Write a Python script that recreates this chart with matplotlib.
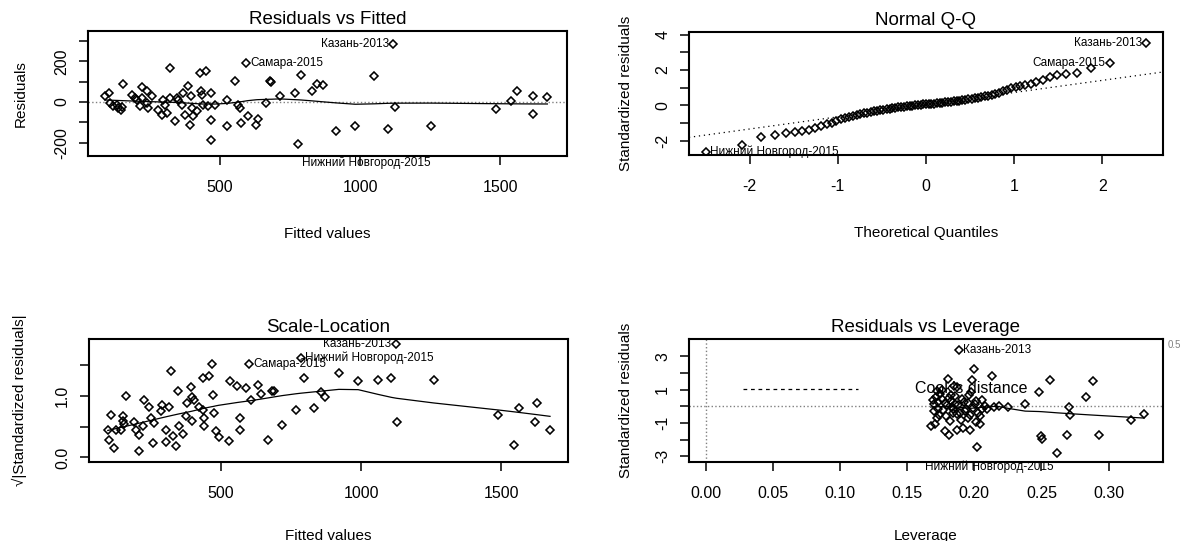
import numpy as np
import matplotlib
matplotlib.use("Agg")
import matplotlib.pyplot as plt
from statistics import NormalDist

plt.rcParams["font.family"] = ["Liberation Sans", "DejaVu Sans"]
plt.rcParams["axes.unicode_minus"] = False

# --- DADOS ---
# painel 1: residuos vs valores ajustados
fitted = [91, 103, 109, 120, 132, 138, 148, 150, 156, 186,
          198, 203, 215, 221, 224, 239, 245, 257, 239, 281,
          292, 298, 304, 310, 322, 322, 340, 346, 352, 364,
          370, 375, 387, 393, 397, 399, 405, 417, 429, 432,
          435, 441, 452, 458, 468, 468, 470, 482, 524, 527,
          553, 565, 571, 577, 601, 595, 630, 636, 666, 678,
          684, 713, 767, 779, 790, 828, 847, 868, 915, 983,
          1051, 1099, 1123, 1253, 1484, 1538, 1561, 1615, 1618, 1668,
          1117]
resid = [28, 44, -5, -21, -16, -30, -38, -26, 89, 36,
         20, 11, -21, 72, 20, 56, -30, 28, -5, -38,
         -62, 11, -13, -54, 167, 20, -95, 20, 11, -13,
         44, -62, 77, -112, 28, -30, -70, -46, 143, 52,
         36, -13, 151, -21, -87, -185, 44, -13, 11, -120,
         105, -16, -30, -103, -70, 192, -115, -82, -5, 102,
         98, 28, 44, -205, 134, 56, 89, 82, -144, -120,
         126, -131, -23, -120, -34, 3, 52, -59, 28, 23,
         287]
p1_labels = {80: "Казань-2013", 55: "Самара-2015", 63: "Нижний Новгород-2015"}

# painel 2: Q-Q (residuos padronizados ordenados)
qq_std = [-2.65, -2.24, -1.82, -1.67, -1.55, -1.51, -1.46, -1.39, -1.30, -1.20,
          -1.08, -0.99, -0.90, -0.80, -0.72, -0.64, -0.59, -0.55, -0.50, -0.46,
          -0.43, -0.39, -0.35, -0.31, -0.28, -0.25, -0.22, -0.19, -0.16, -0.14,
          -0.12, -0.10, -0.08, -0.06, -0.04, -0.02, 0.00, 0.02, 0.03, 0.05,
          0.06,
          0.07, 0.09, 0.10, 0.12, 0.13, 0.15, 0.17, 0.18, 0.20, 0.22,
          0.24, 0.26, 0.28, 0.30, 0.33, 0.36, 0.39, 0.42, 0.46, 0.50,
          0.55, 0.60, 0.66, 0.72, 0.80, 0.88, 0.96, 1.02, 1.08, 1.14,
          1.22, 1.30, 1.45, 1.62, 1.72, 1.78, 1.82, 2.10, 2.38, 3.52]
qq_labels = {80: "Казань-2013", 79: "Самара-2015", 0: "Нижний Новгород-2015"}

# painel 3: scale-location
sl_fitted = [97, 100, 109, 120, 126, 144, 150, 152, 156, 162,
             192, 198, 207, 209, 221, 227, 245, 251, 257, 263,
             286, 292, 304, 304, 316, 322, 328, 340, 346, 352,
             364, 375, 381, 393, 397, 399, 405, 423, 435, 437,
             441, 441, 458, 470, 473, 476, 482, 492, 530, 532,
             559, 568, 568, 589, 601, 607, 634, 642, 670, 684,
             690, 719, 769, 785, 796, 832, 856, 873, 921, 990,
             1061, 1108, 1128, 1123, 1259, 1490, 1544, 1564, 1621, 1629,
             1674]
sl_sqrt = [0.45, 0.29, 0.69, 0.16, 0.45, 0.45, 0.67, 0.59, 0.54, 1.00,
           0.58, 0.45, 0.37, 0.11, 0.52, 0.93, 0.83, 0.65, 0.24, 0.56,
           0.75, 0.85, 0.45, 0.26, 0.83, 1.41, 0.35, 0.19, 1.09, 0.51,
           0.38, 0.67, 0.88, 1.14, 0.99, 0.59, 0.93, 0.83, 1.30, 0.77,
           0.64, 0.51, 1.33, 1.52, 1.01, 0.72, 0.43, 0.33, 0.27, 1.24,
           1.16, 0.64, 0.45, 1.13, 1.52, 0.93, 1.18, 1.04, 0.29, 1.09,
           1.09, 0.53, 0.77, 1.62, 1.30, 0.81, 1.06, 0.99, 1.37, 1.25,
           1.27, 1.30, 0.58, 1.85, 1.27, 0.69, 0.20, 0.80, 0.58, 0.88,
           0.45]
sl_labels = {73: "Казань-2013", 54: "Самара-2015", 63: "Нижний Новгород-2015"}

# painel 4: residuos vs leverage
leverage = [0.1676, 0.1707, 0.1720, 0.1702, 0.1712, 0.1733, 0.1728, 0.1746, 0.1759, 0.1785,
            0.1805, 0.1810, 0.1824, 0.1836, 0.1844, 0.1857, 0.1868, 0.1875, 0.1883, 0.1893,
            0.1914, 0.1927, 0.1940, 0.1952, 0.1966, 0.1978, 0.1986, 0.1996, 0.2004, 0.2012,
            0.2022, 0.2030, 0.2043, 0.2056, 0.2082, 0.2094, 0.2133, 0.2147, 0.2185, 0.2250,
            0.2379, 0.2482, 0.2495, 0.2508, 0.2565, 0.2619, 0.2694, 0.2702, 0.2710, 0.2831,
            0.2882, 0.2926, 0.3167, 0.3263,
            0.169, 0.170, 0.172, 0.174, 0.176, 0.177, 0.178, 0.179, 0.180, 0.181,
            0.182, 0.183, 0.184, 0.186, 0.187, 0.188, 0.190, 0.191, 0.193, 0.195,
            0.197, 0.199, 0.201, 0.204, 0.206, 0.185, 0.196]
lev_std = [-1.16, -1.08, -0.70, 0.14, 0.55, 0.24, -0.18, 0.77, 1.01, -1.49,
           1.64, -1.75, 0.66, -0.07, -0.39, 0.14, -1.43, 1.18, 3.38, -0.39,
           -1.29, 0.24, -0.18, -0.70, -1.43, 0.87, 1.60, 2.27, 0.14, -0.95,
           -2.42, -0.39, -0.60, -0.18, 0.03, -0.18, 1.85, -0.07, 0.03, -0.03,
           0.14, 0.87, -1.79, -1.96, 1.60, -2.80, -1.75, -0.07, -0.54, 0.55,
           1.54, -1.75, -0.81, -0.49,
           0.40, -0.30, 0.95, -0.55, 0.45, -0.25, 0.20, -0.60, 0.05, 0.50,
           -0.90, 0.30, -0.15, 0.60, -0.45, 0.10, -0.80, 0.45, -0.30, 0.20,
           -0.55, -0.10, 0.35, -1.05, 0.40, 1.20, 0.70]
lev_labels = {18: "Казань-2013", 45: "Нижний Новгород-2015"}

MARK = dict(marker="D", ms=4.0, mfc="none", mec="black", mew=1.15, ls="none")
LABEL_FS = 8.5


# --- LOWESS (igual ao panel.smooth do R) ---
def lowess(x, y, f=2 / 3, iters=3):
    x = np.asarray(x, float)
    y = np.asarray(y, float)
    idx = np.argsort(x)
    x, y = x[idx], y[idx]
    n = len(x)
    r = int(np.ceil(f * n))
    h = np.array([np.sort(np.abs(x - x[i]))[r - 1] for i in range(n)])
    h[h == 0] = 1e-12
    w = np.clip(np.abs((x[None, :] - x[:, None]) / h[:, None]), 0, 1)
    w = (1 - w ** 3) ** 3
    delta = np.ones(n)
    yest = np.zeros(n)
    for _ in range(iters + 1):
        for i in range(n):
            wi = delta * w[i]
            A = np.array([[wi.sum(), (wi * x).sum()],
                          [(wi * x).sum(), (wi * x * x).sum()]])
            b = np.array([(wi * y).sum(), (wi * y * x).sum()])
            beta = np.linalg.lstsq(A, b, rcond=None)[0]
            yest[i] = beta[0] + beta[1] * x[i]
        res = y - yest
        s = np.median(np.abs(res))
        d = np.clip(res / (6 * s), -1, 1)
        delta = (1 - d ** 2) ** 2
    return x, yest


def estilo(ax, title, xlabel, ylabel, xpad=20, ypad=14):
    for sp in ax.spines.values():
        sp.set_linewidth(1.5)
    ax.tick_params(direction="out", length=6.5, width=1.1, labelsize=11.5)
    ax.tick_params(axis="x", pad=11)
    ax.tick_params(axis="y", pad=7, labelrotation=90)
    for lab in ax.get_yticklabels():
        lab.set_va("center")
    ax.set_title(title, fontsize=13.5, pad=5)
    ax.set_xlabel(xlabel, fontsize=11, labelpad=xpad)
    ax.set_ylabel(ylabel, fontsize=11, labelpad=ypad)


def rotular(ax, xs, ys, labels, lado_esq, dy=None):
    for i, txt in labels.items():
        left = lado_esq(i)
        off_y = 0 if dy is None or i not in dy else dy[i]
        ax.annotate(txt, (xs[i], ys[i]),
                    xytext=(-3 if left else 3, off_y), textcoords="offset points",
                    ha="right" if left else "left", va="center",
                    fontsize=LABEL_FS, annotation_clip=False)


fig = plt.figure(figsize=(11.85, 5.41), dpi=100)

# --- 1. Residuals vs Fitted ---
ax1 = fig.add_axes([0.0743, 0.7116, 0.4042, 0.2311])
ax1.axhline(0, color="gray", ls=":", lw=1)
ax1.plot(fitted, resid, **MARK)
sx, sy = lowess(fitted, resid)
ax1.plot(sx, sy, color="black", lw=0.9)
ax1.set_xlim(30, 1738)
ax1.set_ylim(-266, 350)
ax1.set_xticks([500, 1000, 1500])
ax1.set_yticks([-200, -100, 0, 100, 200, 300])
ax1.set_yticklabels(["-200", "", "0", "", "200", ""])
estilo(ax1, "Residuals vs Fitted", "Fitted values", "Residuals", xpad=23, ypad=19)
mid1 = (min(fitted) + max(fitted)) / 2
rotular(ax1, fitted, resid, p1_labels, lambda i: fitted[i] > mid1, dy={63: -14})

# --- 2. Normal Q-Q ---
ax2 = fig.add_axes([0.5814, 0.7135, 0.4, 0.2274])
n = len(qq_std)
theo = [NormalDist().inv_cdf((i - 0.5) / n) for i in range(1, n + 1)]
q1, q3 = np.percentile(qq_std, [25, 75])
z1, z3 = NormalDist().inv_cdf(0.25), NormalDist().inv_cdf(0.75)
slope = (q3 - q1) / (z3 - z1)
ax2.axline((0, q1 - slope * z1), slope=slope, color="black", ls=(0, (1, 3)), lw=0.9)
ax2.plot(theo, qq_std, **MARK)
ax2.set_xlim(-2.69, 2.69)
ax2.set_ylim(-2.82, 4.16)
ax2.set_xticks([-2, -1, 0, 1, 2])
ax2.set_yticks([-2, -1, 0, 1, 2, 3, 4])
ax2.set_yticklabels(["-2", "", "0", "", "2", "", "4"])
estilo(ax2, "Normal Q-Q", "Theoretical Quantiles", "Standardized residuals", xpad=23, ypad=16)
rotular(ax2, theo, qq_std, qq_labels, lambda i: theo[i] > 0)

# --- 3. Scale-Location ---
ax3 = fig.add_axes([0.0751, 0.146, 0.4042, 0.2274])
ax3.plot(sl_fitted, sl_sqrt, **MARK)
sx, sy = lowess(sl_fitted, sl_sqrt)
ax3.plot(sx, sy, color="black", lw=0.9)
ax3.set_xlim(30, 1738)
ax3.set_ylim(-0.074, 1.93)
ax3.set_xticks([500, 1000, 1500])
ax3.set_yticks([0, 0.5, 1.0, 1.5])
ax3.set_yticklabels(["0.0", "", "1.0", ""])
estilo(ax3, "Scale-Location", "Fitted values", "√|Standardized residuals|", ypad=20)
mid3 = (min(sl_fitted) + max(sl_fitted)) / 2
rotular(ax3, sl_fitted, sl_sqrt, sl_labels, lambda i: sl_fitted[i] > mid3)

# --- 4. Residuals vs Leverage ---
ax4 = fig.add_axes([0.5814, 0.146, 0.4, 0.2274])
ax4.axhline(0, color="gray", ls=":", lw=1)
ax4.axvline(0, color="gray", ls=":", lw=1)
ax4.plot(leverage, lev_std, **MARK)
sx, sy = lowess(leverage, lev_std)
ax4.plot(sx, sy, color="black", lw=0.9)
ax4.set_xlim(-0.0124, 0.3405)
ax4.set_ylim(-3.35, 4.05)
ax4.set_xticks([0.0, 0.05, 0.10, 0.15, 0.20, 0.25, 0.30])
ax4.set_xticklabels(["0.00", "0.05", "0.10", "0.15", "0.20", "0.25", "0.30"])
ax4.set_yticks([-3, -2, -1, 0, 1, 2, 3])
ax4.set_yticklabels(["-3", "", "-1", "", "1", "", "3"])
estilo(ax4, "Residuals vs Leverage", "Leverage", "Standardized residuals", ypad=16)
mid4 = (min(leverage) + max(leverage)) / 2
rotular(ax4, leverage, lev_std, lev_labels, lambda i: leverage[i] > mid4, dy={45: -10})
# legenda Cook's distance
ax4.plot([0.114, 0.357], [0.596, 0.596], transform=ax4.transAxes,
         color="black", ls=(0, (3, 3)), lw=0.9)
ax4.text(0.477, 0.596, "Cook's distance", transform=ax4.transAxes,
         fontsize=11.5, va="center", ha="left")
ax4.text(1.01, 0.99, "0.5", transform=ax4.transAxes, fontsize=7,
         color="gray", va="top", ha="left")

fig.savefig("out.png", dpi=100)
